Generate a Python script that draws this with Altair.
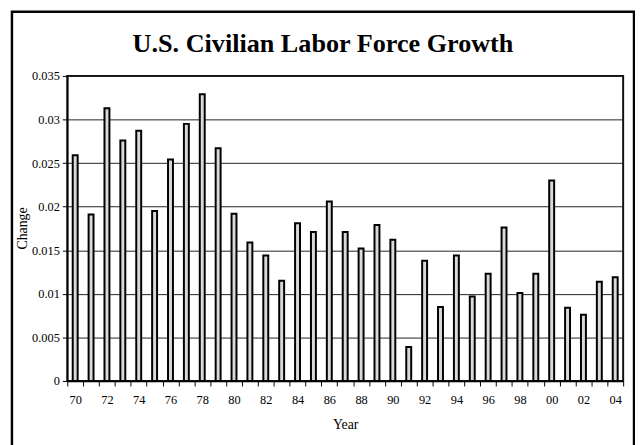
import altair as alt
import pandas as pd

# Data
years = ["70", "71", "72", "73", "74", "75", "76", "77", "78", "79",
         "80", "81", "82", "83", "84", "85", "86", "87", "88", "89",
         "90", "91", "92", "93", "94", "95", "96", "97", "98", "99",
         "00", "01", "02", "03", "04"]
changes = [0.0259, 0.0191, 0.0313, 0.0276, 0.0287, 0.0195, 0.0254, 0.0295, 0.0329, 0.0267,
           0.0192, 0.0159, 0.0144, 0.0115, 0.0181, 0.0171, 0.0206, 0.0171, 0.0152, 0.0179,
           0.0162, 0.0039, 0.0138, 0.0085, 0.0144, 0.0097, 0.0123, 0.0176, 0.0101, 0.0123,
           0.0230, 0.0084, 0.0076, 0.0114, 0.0119]
shown_labels = ["70", "72", "74", "76", "78", "80", "82", "84", "86", "88",
                "90", "92", "94", "96", "98", "00", "02", "04"]
y_ticks = [0, 0.005, 0.01, 0.015, 0.02, 0.025, 0.03, 0.035]
chart_title = "U.S. Civilian Labor Force Growth"

df = pd.DataFrame({"year": years, "change": changes})
label_list = ",".join(f"'{s}'" for s in shown_labels)
serif = "Liberation Serif, Times New Roman, serif"

bars = alt.Chart(df).mark_bar(
    fill="#d9d9d9", stroke="black", strokeWidth=2, size=5
).encode(
    x=alt.X(
        "year:O", sort=None, title="Year",
        scale=alt.Scale(paddingInner=0, paddingOuter=0),
        axis=alt.Axis(
            labelAngle=0, tickBand="extent",
            labelExpr=f"indexof([{label_list}], datum.value) >= 0 ? datum.value : ''",
            labelFont=serif, labelFontSize=12.5, labelColor="black",
            labelPadding=8, tickSize=5, tickColor="black", tickWidth=1,
            domainColor="black", domainWidth=1.5,
            titleFont=serif, titleFontSize=14, titleFontWeight="normal",
            titleColor="black", titlePadding=12,
        ),
    ),
    y=alt.Y(
        "change:Q", title="Change",
        scale=alt.Scale(domain=[0, 0.035], nice=False),
        axis=alt.Axis(
            values=y_ticks, format="~g",
            labelFont=serif, labelFontSize=12.5, labelColor="black",
            labelPadding=3, tickSize=5, tickColor="black", tickWidth=1,
            domainColor="black", domainWidth=1.5,
            grid=True, gridColor="#222222", gridWidth=1,
            titleFont=serif, titleFontSize=14, titleFontWeight="normal",
            titleColor="black", titleX=-45, titleY=154, titleAngle=270,
            titleAlign="center", titleBaseline="middle",
        ),
    ),
)

border = alt.Chart(pd.DataFrame({"a": [0]})).mark_rect(
    fill="transparent", stroke="black", strokeWidth=2.5
).encode(
    x=alt.value(-56), x2=alt.value(574), y=alt.value(-65), y2=alt.value(420)
)

title_text = alt.Chart(pd.DataFrame({"t": [chart_title]})).mark_text(
    font=serif, fontSize=26.5, fontWeight="bold", color="black",
    align="center", baseline="middle"
).encode(
    text="t:N", x=alt.value(259), y=alt.value(-32)
)

chart = alt.layer(border, bars, title_text).properties(
    width=563,
    height=309,
    autosize=alt.AutoSizeParams(type="none"),
    padding={"left": 60, "top": 66, "right": 12, "bottom": 62},
    background="white",
).configure_view(stroke="#111111", strokeWidth=2)

chart.save("out.html", embed_options={"renderer": "svg", "actions": False})
